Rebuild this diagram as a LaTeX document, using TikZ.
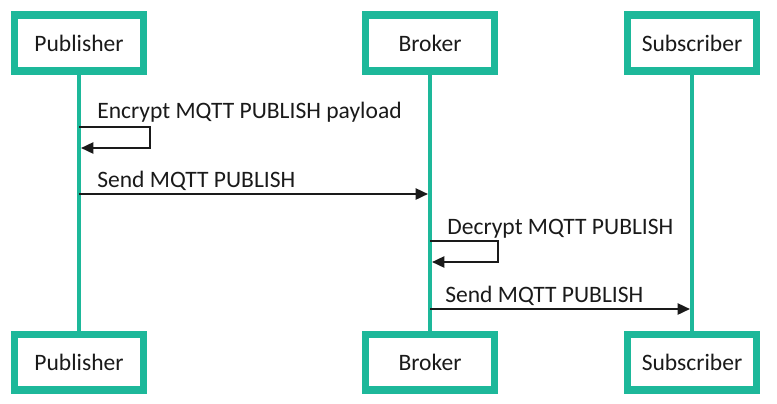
\documentclass[tikz,border=0pt]{standalone}
\usepackage{fontspec}
\setmainfont{Carlito}
\usetikzlibrary{arrows.meta,positioning}
\definecolor{lifeteal}{HTML}{1DB89A}
\definecolor{ink}{HTML}{1A1A1A}

\begin{document}
\begin{tikzpicture}[x=0.02cm,y=-0.02cm,>={Triangle[length=7pt,width=6.5pt]},
    actor/.style={draw=lifeteal,line width=4pt,fill=white,minimum width=2.58cm,minimum height=1.12cm,font=\fontsize{13.4}{15}\selectfont,text=ink},
    life/.style={lifeteal,line width=2.3pt},
    msg/.style={->,line width=0.8pt,draw=ink,shorten >=1.2pt},
    lbl/.style={anchor=base west,inner sep=0pt,font=\fontsize{13.4}{15}\selectfont,text=ink}]
      \useasboundingbox (0,0) rectangle (777,403);
      % actors, top row
      \node[actor] (pubtop) at (79,43) {Publisher};
      \node[actor] (brktop) at (430,43) {Broker};
      \node[actor] (subtop) at (692,43) {Subscriber};
      % actors, bottom row
      \node[actor] (pubbot) at (79,362) {Publisher};
      \node[actor] (brkbot) at (430,362) {Broker};
      \node[actor] (subbot) at (692,362) {Subscriber};
      % lifelines
      \draw[life] (pubtop) -- (pubbot);
      \draw[life] (brktop) -- (brkbot);
      \draw[life] (subtop) -- (subbot);
      % messages
      \coordinate (enc) at (pubtop.south |- 0,127);
      \draw[msg] (enc) -- ++(71,0) -- ++(0,21) -- ++(-71,0);
      \node[lbl] (enclbl) at (97,118) {Encrypt MQTT PUBLISH payload};
      \draw[msg] (pubtop.south |- 0,194) -- (brktop.south |- 0,194);
      \node[lbl] (send1lbl) at (97,187) {Send MQTT PUBLISH};
      \coordinate (dec) at (brktop.south |- 0,241);
      \draw[msg] (dec) -- ++(68,0) -- ++(0,21) -- ++(-68,0);
      \node[lbl] (declbl) at (447,234) {Decrypt MQTT PUBLISH};
      \draw[msg] (brktop.south |- 0,309) -- (subtop.south |- 0,309);
      \node[lbl] (send2lbl) at (445,302) {Send MQTT PUBLISH};
    \end{tikzpicture}
\end{document}
